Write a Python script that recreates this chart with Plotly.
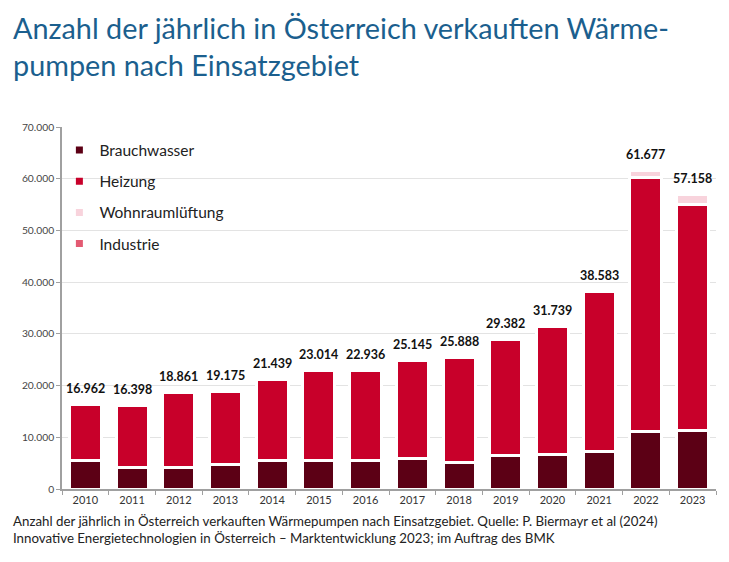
import plotly.graph_objects as go

years = ["2010", "2011", "2012", "2013", "2014", "2015", "2016",
         "2017", "2018", "2019", "2020", "2021", "2022", "2023"]
brauchwasser = [5500, 4200, 4200, 4800, 5500, 5500, 5500, 5900, 5200, 6550, 6750, 7300, 11150, 11400]
heizung = [10850, 11950, 14550, 14150, 15750, 17350, 17350, 18900, 20150, 22450, 24600, 30950, 49150, 43650]
wohnraumlueftung = [0, 0, 0, 0, 0, 0, 0, 0, 0, 0, 0, 0, 1200, 1850]
industrie = [0, 0, 0, 0, 0, 0, 0, 0, 0, 0, 0, 0, 0, 0]
total_labels = ["16.962", "16.398", "18.861", "19.175", "21.439", "23.014", "22.936",
                "25.145", "25.888", "29.382", "31.739", "38.583", "61.677", "57.158"]

names = ["Brauchwasser", "Heizung", "Wohnraumlüftung", "Industrie"]
colors = ["#5c0015", "#c8002a", "#f8d3dc", "#e35a72"]
series = [brauchwasser, heizung, wohnraumlueftung, industrie]

FONT = "Lato"
L, R, T, B, W, H = 54, 21, 119, 81, 729, 562
PW, PH = W - L - R, H - T - B

fig = go.Figure()
for name, col, vals in zip(names, colors, series):
    fig.add_trace(go.Bar(
        x=years, y=vals, name=name, marker=dict(color=col, line=dict(color="white", width=3)),
        showlegend=False, hoverinfo="x+y+name"))
# legend entries (small square markers)
for i, (name, col) in enumerate(zip(names, colors)):
    fig.add_trace(go.Scatter(
        x=[years[0]], y=[None], mode="markers", name=name, legendgroup=f"g{i}",
        marker=dict(symbol="square", size=7, color=col), showlegend=True))

totals = [sum(v) for v in zip(*series)]
for i, (tot, lab) in enumerate(zip(totals, total_labels)):
    fig.add_annotation(x=i, y=tot, text=f"<b>{lab}</b>", showarrow=False,
                       yshift=16, font=dict(family=FONT, size=12.5, color="#111111"))

fig.add_annotation(xref="paper", yref="paper", x=-0.078, y=1.0, yanchor="bottom", xanchor="left",
                   yshift=43, align="left", showarrow=False,
                   text="Anzahl der jährlich in Österreich verkauften Wärme-<br>pumpen nach Einsatzgebiet",
                   font=dict(family=FONT, size=28.8, color="#1b5f8e"))
fig.add_annotation(xref="paper", yref="paper", x=-0.078, y=0, yanchor="top", xanchor="left",
                   yshift=-22, align="left", showarrow=False,
                   text="Anzahl der jährlich in Österreich verkauften Wärmepumpen nach Einsatzgebiet. Quelle: P. Biermayr et al (2024)<br>Innovative Energietechnologien in Österreich – Marktentwicklung 2023; im Auftrag des BMK",
                   font=dict(family=FONT, size=13.3, color="#222222"))

# white backdrop behind the legend (hides gridlines, not the axis)
fig.add_shape(type="rect", xref="paper", yref="paper", layer="between",
              x0=(70 - L) / PW, x1=(233 - L) / PW,
              y0=1 - (262 - T) / PH, y1=1 - (128 - T) / PH,
              fillcolor="white", line=dict(width=0))

fig.update_layout(
    width=W, height=H,
    margin=dict(l=L, r=R, t=T, b=B),
    barmode="stack", bargap=0.315,
    paper_bgcolor="white", plot_bgcolor="white",
    separators=",.",
    font=dict(family=FONT, color="#333333"),
    legend=dict(x=-0.004, y=0.982, xanchor="left", yanchor="top", bgcolor="rgba(0,0,0,0)",
                font=dict(family=FONT, size=15.5, color="#222222"),
                tracegroupgap=8, traceorder="grouped"),
)
fig.update_yaxes(range=[0, 70000], dtick=10000, tickformat=",d",
                 showgrid=True, gridcolor="#e3e3e3", gridwidth=1,
                 showline=True, linecolor="#a0a0a0", linewidth=1.5,
                 ticks="outside", ticklen=4, tickcolor="#a0a0a0",
                 tickfont=dict(family=FONT, size=10.3, color="#444444"), zeroline=False)
fig.update_xaxes(type="category", categoryorder="array", categoryarray=years,
                 range=[-0.5, len(years) - 0.5], tickangle=0,
                 showline=True, linecolor="#a0a0a0", linewidth=1.5,
                 ticks="outside", ticklen=4, tickcolor="#a0a0a0", tickson="boundaries",
                 tickfont=dict(family=FONT, size=11, color="#333333"))

fig.write_html("out.html")
